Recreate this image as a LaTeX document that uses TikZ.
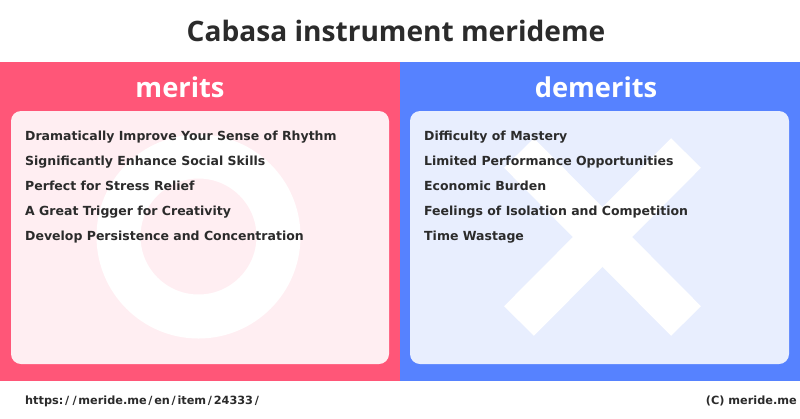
\documentclass[tikz,border=0pt]{standalone}
\usepackage{fontspec}
\setmainfont{DejaVu Sans}
\newfontfamily\headfont{Open Sans}
\definecolor{redbg}{HTML}{FF5678}
\definecolor{bluebg}{HTML}{5682FF}
\definecolor{redpanel}{HTML}{FFEEF2}
\definecolor{bluepanel}{HTML}{E8EEFE}
\definecolor{ink}{HTML}{2B2B2B}
\newcommand{\urlslash}{\kern1.7pt/\kern1.7pt}
\tikzset{x=1pt,y=-1pt,
 head/.style={text=white,font=\headfont\bfseries\fontsize{27.3}{30}\selectfont,anchor=center,inner sep=0},
 item/.style={text=ink,font=\bfseries\fontsize{12.5}{14}\selectfont,anchor=base west,inner sep=0},
 foot/.style={text=ink,font=\bfseries\fontsize{11.3}{14}\selectfont,inner sep=0}}
\begin{document}
\begin{tikzpicture}
\useasboundingbox (0,0) rectangle (800,418);
\fill[white] (0,0) rectangle (800,418);
\fill[redbg] (0,62) rectangle (400,381);
\fill[bluebg] (400,62) rectangle (800,381);
\fill[redpanel,rounded corners=10] (11,111) rectangle (389,364);
\fill[bluepanel,rounded corners=10] (410,111) rectangle (789,364);
\draw[white,line width=44] (198.5,236.5) circle (80);
\draw[white,line width=42] (519,153) -- (686,321);
\draw[white,line width=42] (686,153) -- (519,321);
\node[text=ink,font=\headfont\bfseries\fontsize{28.1}{30}\selectfont,inner sep=0] (title) at (396,30.5) {Cabasa instrument merideme};
\node[head] (m) at (180,87) {merits};
\node[head] (d) at (596,87) {demerits};
\node[item] (m1) at (25,140) {Dramatically Improve Your Sense of Rhythm};
\node[item] (m2) at (25,165) {Significantly Enhance Social Skills};
\node[item] (m3) at (25,190) {Perfect for Stress Relief};
\node[item] (m4) at (25,215) {A Great Trigger for Creativity};
\node[item] (m5) at (25,240) {Develop Persistence and Concentration};
\node[item] (d1) at (424,140) {Difficulty of Mastery};
\node[item] (d2) at (424,165) {Limited Performance Opportunities};
\node[item] (d3) at (424,190) {Economic Burden};
\node[item] (d4) at (424,215) {Feelings of Isolation and Competition};
\node[item] (d5) at (424,240) {Time Wastage};
\node[foot,anchor=base west] (u) at (25,404) {https:\urlslash\urlslash meride.me\urlslash en\urlslash item\urlslash 24333\urlslash};
\node[foot,anchor=base east] (c) at (797,404) {(C) meride.me};
\end{tikzpicture}
\end{document}
